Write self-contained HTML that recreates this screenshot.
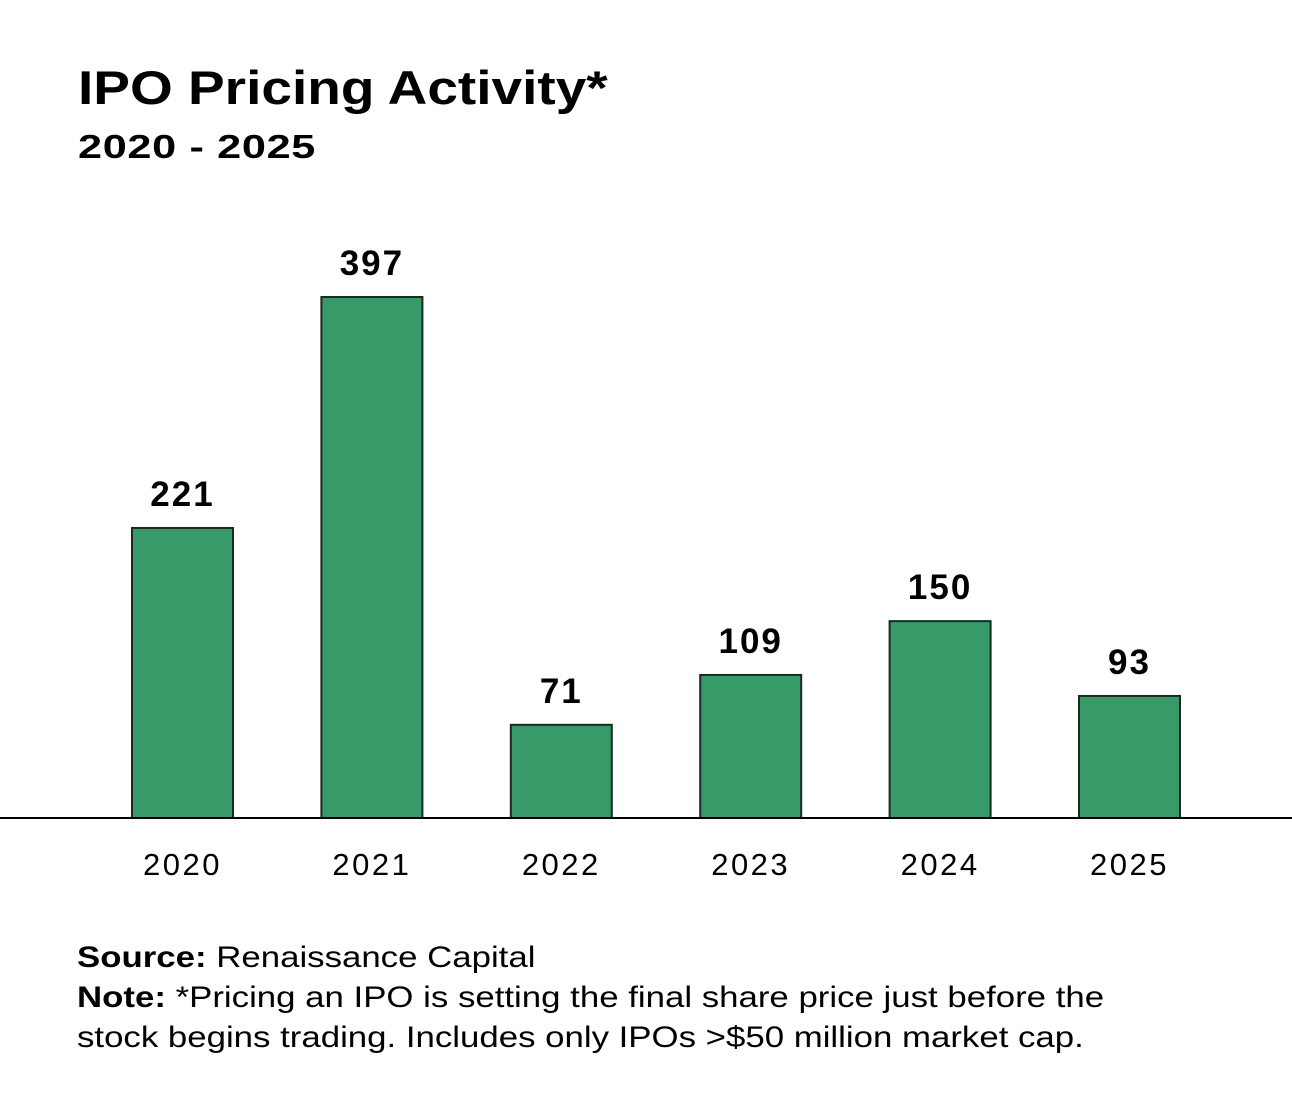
<!DOCTYPE html>
<html><head><meta charset="utf-8"><style>
body{margin:0;background:#fff;font-family:"Liberation Sans",sans-serif;}
#wrap{position:relative;width:1292px;height:1116px;overflow:hidden;}
.t{position:absolute;color:#000;white-space:nowrap;transform-origin:0 0;}
</style></head><body>
<div id="wrap">
<div class="t" style="left:78px;top:60px;font-size:47px;font-weight:bold;transform:scaleX(1.17);">IPO Pricing Activity*</div>
<div class="t" style="left:78px;top:128px;font-size:33px;font-weight:bold;transform:scaleX(1.31);letter-spacing:0.5px;">2020 - 2025</div>
<svg id="chart" width="1292" height="1116" style="position:absolute;left:0;top:0"></svg>
<div class="t" style="left:77px;top:938px;font-size:30px;line-height:40px;transform:scaleX(1.16);"><b>Source:</b> Renaissance Capital<br><b>Note:</b> *Pricing an IPO is setting the final share price just before the<br>stock begins trading. Includes only IPOs &gt;$50 million market cap.</div>
</div>
<script>
const categories=["2020","2021","2022","2023","2024","2025"];
const values=[221,397,71,109,150,93];
const svg=document.getElementById('chart');
const NS="http://www.w3.org/2000/svg";
const baseY=818, pxPerUnit=521/397, x0=182.5, step=189.4, bw=101;
function xScale(i){return x0+i*step;}
function yScale(v){return baseY-v*pxPerUnit;}
function mk(tag,attrs){const e=document.createElementNS(NS,tag);for(const k in attrs)e.setAttribute(k,attrs[k]);svg.appendChild(e);return e;}
categories.forEach((c,i)=>{
  const cx=xScale(i),top=yScale(values[i]);
  const r=mk('rect',{x:cx-bw/2,y:top,width:bw,height:baseY-top,fill:'#379a68',stroke:'#1a2a20','stroke-width':2});
  
  
  const vl=mk('text',{x:cx,y:top-22,'text-anchor':'middle','font-size':35,'font-weight':'bold','letter-spacing':2,'font-family':'Liberation Sans, sans-serif'});
  vl.textContent=values[i];
  
  
  const xl=mk('text',{x:cx,y:875,'text-anchor':'middle','font-size':31,'letter-spacing':2.5,'font-family':'Liberation Sans, sans-serif'});
  xl.textContent=c;
  
  
});
const ax=mk('line',{x1:0,x2:1292,y1:baseY,y2:baseY,stroke:'#000','stroke-width':2});


</script>
</body></html>
